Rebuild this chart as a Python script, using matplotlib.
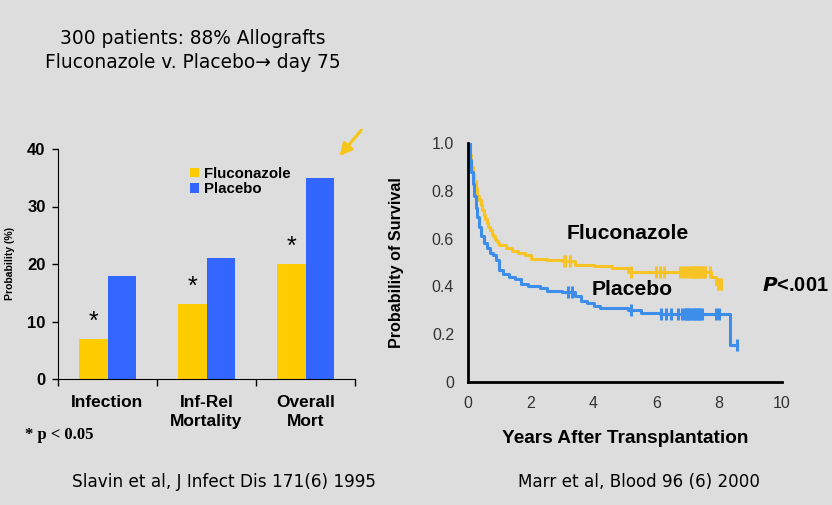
import numpy as np
import matplotlib.pyplot as plt

# ---- data ----
categories = ['Infection', 'Inf-Rel\nMortality', 'Overall\nMort']
fluconazole_pct = [7, 13, 20]
placebo_pct = [18, 21, 35]

# Kaplan-Meier steps (years, survival)
flu_t = [0, 0.05, 0.1, 0.15, 0.2, 0.25, 0.3, 0.35, 0.4, 0.45, 0.5, 0.55, 0.6,
         0.65, 0.7, 0.75, 0.8, 0.85, 0.9, 0.95, 1.0, 1.2, 1.4, 1.6, 1.8, 2.0,
         2.5, 3.0, 3.4, 4.0, 4.6, 5.1, 6.0, 7.75, 7.9, 8.07]
flu_s = [1.0, 0.95, 0.90, 0.87, 0.84, 0.81, 0.78, 0.76, 0.74, 0.72, 0.70,
         0.68, 0.665, 0.65, 0.635, 0.62, 0.61, 0.60, 0.59, 0.58, 0.575, 0.56,
         0.55, 0.54, 0.53, 0.515, 0.51, 0.505, 0.49, 0.485, 0.475, 0.46, 0.46,
         0.44, 0.41, 0.41]
flu_cens = [3.05, 3.1, 3.25, 5.2, 6.0, 6.1, 6.25, 6.75, 6.85, 6.95, 7.05, 7.1,
            7.15, 7.2, 7.25, 7.3, 7.35, 7.4, 7.45, 7.5, 7.55, 7.7, 7.95, 8.0,
            8.05]

pla_t = [0, 0.05, 0.1, 0.15, 0.2, 0.25, 0.3, 0.35, 0.4, 0.5, 0.6, 0.7, 0.8,
         0.9, 1.0, 1.1, 1.3, 1.5, 1.7, 1.9, 2.3, 2.5, 3.0, 3.4, 3.6, 3.8, 4.0,
         4.2, 5.1, 5.5, 6.1, 8.35, 8.57]
pla_s = [1.0, 0.93, 0.88, 0.83, 0.78, 0.73, 0.69, 0.65, 0.61, 0.58, 0.56,
         0.54, 0.53, 0.51, 0.47, 0.45, 0.44, 0.43, 0.41, 0.40, 0.395, 0.38,
         0.375, 0.36, 0.34, 0.33, 0.32, 0.31, 0.30, 0.29, 0.285, 0.155, 0.155]
pla_cens = [3.2, 3.3, 5.2, 6.15, 6.3, 6.45, 6.7, 6.8, 6.9, 6.95, 7.0, 7.05,
            7.1, 7.15, 7.2, 7.25, 7.3, 7.35, 7.4, 7.45, 7.9, 8.0, 8.57]

# ---- style ----
bg = '#DDDDDD'
bar_yellow = '#FFCC00'
bar_blue = '#3366FF'
km_yellow = '#F7C325'
km_blue = '#3D8EEB'
plt.rcParams['font.family'] = ['Liberation Sans', 'DejaVu Sans']

fig = plt.figure(figsize=(8.32, 5.05), dpi=100, facecolor=bg)

# titles and citations
title_font = ['DejaVu Sans']
fig.text(193 / 832, 1 - 38 / 505, '300 patients: 88% Allografts', ha='center',
         va='center', fontsize=13.4, family=title_font)
fig.text(193 / 832, 1 - 62 / 505, 'Fluconazole v. Placebo\u2192 day 75',
         ha='center', va='center', fontsize=13.4, family=title_font)
fig.text(224 / 832, 1 - 482 / 505, 'Slavin et al, J Infect Dis 171(6) 1995',
         ha='center', va='center', fontsize=12.2, family=title_font)
fig.text(639 / 832, 1 - 482 / 505, 'Marr et al, Blood 96 (6) 2000',
         ha='center', va='center', fontsize=12.1, family=title_font)

# ---- left: bar chart ----
ax1 = fig.add_axes([58 / 832, (505 - 379) / 505, 297 / 832, 230 / 505])
ax1.set_facecolor(bg)
x = np.arange(len(categories))
w = 0.29
ax1.bar(x, fluconazole_pct, width=-w, align='edge', color=bar_yellow,
        label='Fluconazole')
ax1.bar(x, placebo_pct, width=w, align='edge', color=bar_blue,
        label='Placebo')
for xi, v in zip(x, fluconazole_pct):
    ax1.text(xi - w / 2, v + 0.9, '*', ha='center', va='bottom', fontsize=18)

ax1.set_xlim(-0.5, 2.5)
ax1.set_ylim(0, 40)
ax1.set_yticks([0, 10, 20, 30, 40])
ax1.set_xticks([-0.5, 0.5, 1.5, 2.5])
ax1.set_xticklabels([])
ax1.tick_params(axis='y', labelsize=12, length=4, width=1, pad=5)
ax1.tick_params(axis='x', length=5, width=1)
for lbl in ax1.get_yticklabels():
    lbl.set_fontweight('bold')
for xi, c in zip(x, categories):
    ax1.text(xi, -2.7, c, ha='center', va='top', fontsize=12.5,
             fontweight='bold', linespacing=1.35)
for s in ['top', 'right']:
    ax1.spines[s].set_visible(False)
ax1.set_ylabel('Probability (%)', fontsize=7.5, fontweight='bold', labelpad=9)
ax1.legend(loc='upper left', bbox_to_anchor=(0.42, 0.955), frameon=False,
           prop={'weight': 'bold', 'size': 10.8},
           handlelength=0.6, handleheight=0.6, handletextpad=0.3,
           labelspacing=0.1, borderpad=0)
fig.text(25 / 832, 1 - 435 / 505, '* p < 0.05', ha='left', va='center',
         fontsize=12, family=['Liberation Serif', 'DejaVu Serif'],
         fontweight='bold')

# arrow pointing at overall mortality
fig.add_artist(plt.annotate('', xy=(338 / 832, 1 - 158 / 505),
                            xytext=(363 / 832, 1 - 128 / 505),
                            xycoords='figure fraction',
                            textcoords='figure fraction',
                            arrowprops=dict(arrowstyle='-|>', color='#F5C518',
                                            lw=2, mutation_scale=18)))

# ---- right: Kaplan-Meier ----
ax2 = fig.add_axes([468 / 832, (505 - 382) / 505, 314 / 832, 239 / 505])
ax2.set_facecolor(bg)


def km(ax, t, s, cens, color):
    ax.step(t, s, where='post', color=color, lw=2.2)
    t = np.asarray(t)
    s = np.asarray(s)
    idx = np.searchsorted(t, cens, side='right') - 1
    ax.plot(cens, s[idx], ls='none', marker='|', ms=9, mew=2.2, color=color)


km(ax2, flu_t, flu_s, flu_cens, km_yellow)
km(ax2, pla_t, pla_s, pla_cens, km_blue)

ax2.set_xlim(0, 10)
ax2.set_ylim(0, 1.0)
ax2.set_xticks([0, 2, 4, 6, 8, 10])
ax2.set_yticks([0, 0.2, 0.4, 0.6, 0.8, 1.0])
ax2.set_yticklabels(['0', '0.2', '0.4', '0.6', '0.8', '1.0'])
ax2.tick_params(length=0, labelsize=11.5, labelcolor='#333333', pad=10)
for s in ['top', 'right']:
    ax2.spines[s].set_visible(False)
for s in ['left', 'bottom']:
    ax2.spines[s].set_linewidth(2)
    ax2.spines[s].set_color('black')
ax2.set_xlabel('Years After Transplantation', fontsize=13.7, fontweight='bold',
               labelpad=14)
ax2.set_ylabel('Probability of Survival', fontsize=11.6, fontweight='bold',
               labelpad=20)
ax2.text(3.15, 0.62, 'Fluconazole', fontsize=15.2, fontweight='bold',
         va='center', ha='left')
ax2.text(3.94, 0.385, 'Placebo', fontsize=15.2, fontweight='bold',
         va='center', ha='left')
ax2.text(9.35, 0.405, r'$\mathbfit{P}$<.001', fontsize=14.4, fontweight='bold',
         va='center', ha='left', clip_on=False)

fig.savefig('out.png', dpi=100, facecolor=bg)
